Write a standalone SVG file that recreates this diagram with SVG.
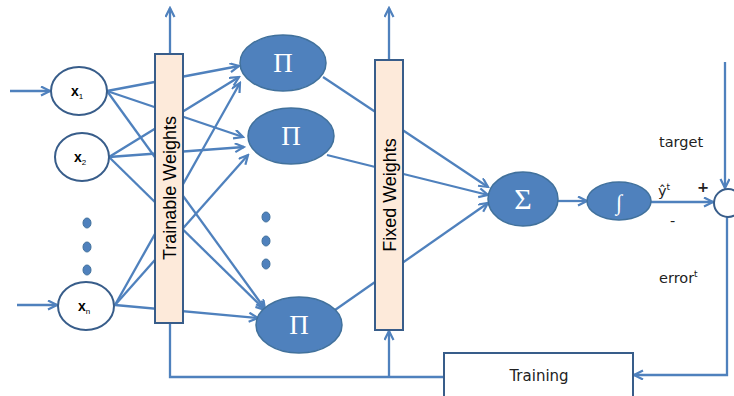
<svg xmlns="http://www.w3.org/2000/svg" width="734" height="396" viewBox="0 0 734 396">
<defs>
<marker id="arr" markerUnits="userSpaceOnUse" markerWidth="12" markerHeight="12" refX="10" refY="5" orient="auto">
<path d="M1,0.5 L10,5 L1,9.5" fill="none" stroke="#4F81BD" stroke-width="2.2"/>
</marker>
<style>
.ln{stroke:#4F81BD;stroke-width:2.3;fill:none}
.la{stroke:#4F81BD;stroke-width:2.3;fill:none;marker-end:url(#arr)}
.inp{fill:#fff;stroke:#385D8A;stroke-width:2}
.blue{fill:#4F81BD;stroke:#41719C;stroke-width:1.5}
.bar{fill:#FDEADA;stroke:#385D8A;stroke-width:2}
.dot{fill:#4F81BD;stroke:#41719C;stroke-width:1}
.xt{font-family:"Liberation Sans",Arial,sans-serif;font-size:14px;font-weight:bold;fill:#000}
.sub{font-size:8px;font-weight:normal}
.op{font-family:"Liberation Serif","Times New Roman",serif;font-size:27px;fill:#fff;text-anchor:middle}
.bt{font-family:"Liberation Sans",Arial,sans-serif;font-size:18px;fill:#000;text-anchor:middle}
.lb{font-family:"DejaVu Sans",Verdana,sans-serif;font-size:14.5px;fill:#222}
</style>
</defs>
<rect width="734" height="396" fill="#fff"/>
<g id="connectors">
<path class="la" d="M10,91 H50"/>
<path class="la" d="M17,305 H57"/>
<path class="la" d="M107,91 L239,66"/>
<path class="la" d="M107,91 L243,137"/>
<path class="la" d="M107,91 L265,309"/>
<path class="la" d="M109,157 L239,77"/>
<path class="la" d="M109,157 L244,147"/>
<path class="la" d="M109,157 L265,310"/>
<path class="la" d="M115,305 L240,83"/>
<path class="la" d="M115,305 L248,155"/>
<path class="la" d="M115,305 L258,318"/>
<path class="la" d="M323,77 L488,187"/>
<path class="la" d="M327,155 L488,195"/>
<path class="la" d="M335,310 L488,203"/>
<path class="la" d="M558,201 H587"/>
<path class="la" d="M651,202 H713"/>
<path class="la" d="M725,62 V188"/>
<path class="la" d="M727,217 V375 H634"/>
<path class="ln" d="M444,377 H170 V323"/>
<path class="la" d="M389,377 V331"/>
<path class="la" d="M170,54 V8"/>
<path class="la" d="M389,60 V8"/>
</g>
<g id="trainable-weights">
<rect class="bar" x="155" y="54" width="28" height="269"/>
<text class="bt" transform="translate(175.5,188) rotate(-90)">Trainable Weights</text>
</g>
<g id="fixed-weights">
<rect class="bar" x="375" y="60" width="28" height="270"/>
<text class="bt" transform="translate(395.5,195) rotate(-90)">Fixed Weights</text>
</g>
<g id="x1">
<ellipse class="inp" cx="79" cy="91" rx="28" ry="24"/>
<text class="xt" x="71" y="96">x<tspan class="sub" dy="3">1</tspan></text>
</g>
<g id="x2">
<ellipse class="inp" cx="82" cy="157" rx="27" ry="24"/>
<text class="xt" x="74" y="162">x<tspan class="sub" dy="3">2</tspan></text>
</g>
<g id="xn">
<ellipse class="inp" cx="86" cy="306" rx="28" ry="24"/>
<text class="xt" x="78" y="311">x<tspan class="sub" dy="3">n</tspan></text>
</g>
<g id="input-dots">
<ellipse class="dot" cx="87" cy="223" rx="4" ry="5"/>
<ellipse class="dot" cx="87" cy="247" rx="4" ry="5"/>
<ellipse class="dot" cx="87" cy="270" rx="4" ry="5"/>
</g>
<g id="pi1">
<ellipse class="blue" cx="283" cy="63" rx="43" ry="28"/>
<text class="op" x="283" y="72">Π</text>
</g>
<g id="pi2">
<ellipse class="blue" cx="291" cy="136" rx="43" ry="28"/>
<text class="op" x="291" y="145">Π</text>
</g>
<g id="pi3">
<ellipse class="blue" cx="299" cy="325" rx="43" ry="28"/>
<text class="op" x="299" y="334">Π</text>
</g>
<g id="pi-dots">
<ellipse class="dot" cx="266" cy="217" rx="4" ry="5"/>
<ellipse class="dot" cx="266" cy="241" rx="4" ry="5"/>
<ellipse class="dot" cx="266" cy="264" rx="4" ry="5"/>
</g>
<g id="sum">
<ellipse class="blue" cx="523" cy="199" rx="35" ry="27"/>
<text class="op" x="523" y="209" style="font-size:30px">Σ</text>
</g>
<g id="integral">
<ellipse class="blue" cx="619" cy="201" rx="32" ry="19"/>
<text class="op" x="619" y="210" style="font-size:22px">∫</text>
</g>
<g id="comparator">
<circle class="inp" cx="728" cy="203" r="14"/>
</g>
<g id="training">
<rect x="444" y="353" width="189" height="45" fill="#fff" stroke="#385D8A" stroke-width="2"/>
<text class="lb" x="539" y="381" text-anchor="middle" style="font-size:15px">Training</text>
</g>
<g id="labels">
<text class="lb" x="659" y="147">target</text>
<text class="lb" x="658" y="196">ŷ<tspan style="font-size:9px" dy="-6">t</tspan></text>
<text class="lb" x="697" y="192" style="font-weight:bold">+</text>
<text class="lb" x="670" y="226">-</text>
<text class="lb" x="659" y="283">error<tspan style="font-size:9px" dy="-6">t</tspan></text>
</g>
</svg>
